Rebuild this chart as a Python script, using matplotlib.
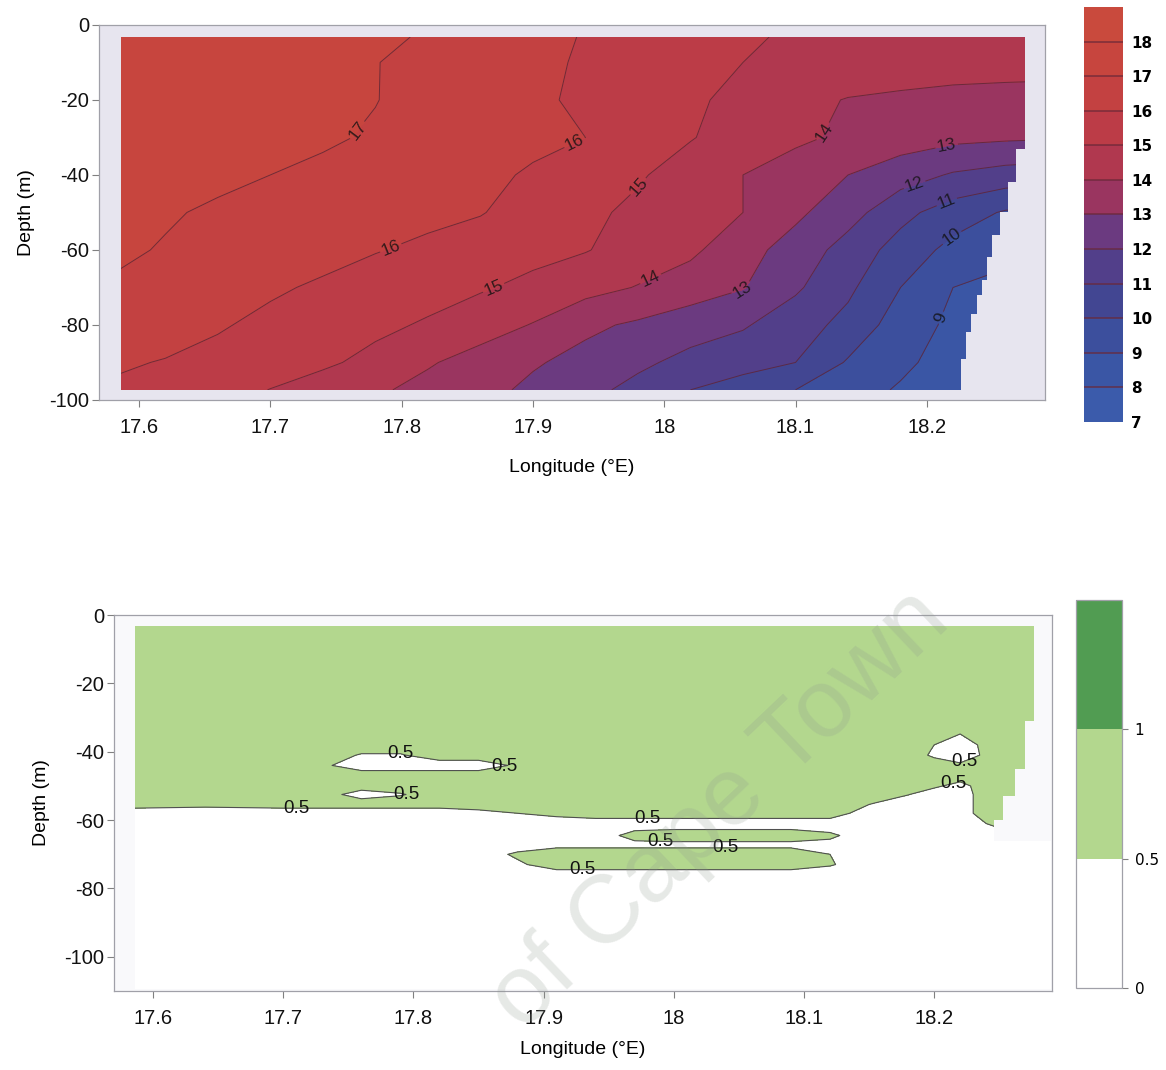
import numpy as np
import matplotlib
matplotlib.use("Agg")
import matplotlib.pyplot as plt
from matplotlib.patches import Polygon

plt.rcParams['font.family'] = ['Liberation Sans', 'DejaVu Sans']
plt.rcParams['axes.unicode_minus'] = False

# ---------------- top panel: temperature section ----------------
lon_t = [17.586, 17.62, 17.66, 17.70, 17.74, 17.78, 17.82, 17.86, 17.90, 17.94,
         17.98, 18.02, 18.06, 18.10, 18.14, 18.18, 18.22, 18.26, 18.29]
depth_t = [-3.2, -10, -20, -30, -40, -50, -60, -70, -80, -90, -97.3]
temp = [
    [17.6, 17.55, 17.45, 17.35, 17.25, 17.1, 16.95, 16.6, 16.25, 15.95, 15.7, 15.4, 15.1, 14.9, 14.8, 14.7, 14.6, 14.5, 14.5],
    [17.6, 17.55, 17.45, 17.35, 17.2, 17.02, 16.8, 16.5, 16.2, 15.9, 15.6, 15.3, 15.0, 14.85, 14.7, 14.6, 14.45, 14.4, 14.4],
    [17.6, 17.5, 17.4, 17.3, 17.15, 17.02, 16.75, 16.45, 16.15, 15.85, 15.5, 15.15, 14.75, 14.3, 13.95, 13.8, 13.7, 13.65, 13.6],
    [17.5, 17.45, 17.35, 17.25, 17.1, 16.92, 16.7, 16.45, 16.2, 16.0, 15.5, 15.05, 14.6, 14.2, 13.8, 13.5, 13.25, 13.15, 13.1],
    [17.4, 17.3, 17.15, 17.0, 16.85, 16.65, 16.45, 16.2, 15.9, 15.5, 15.1, 14.6, 14.0, 13.5, 13.0, 12.45, 11.9, 11.6, 11.5],
    [17.2, 17.07, 16.9, 16.75, 16.6, 16.45, 16.25, 16.05, 15.6, 15.2, 14.8, 14.4, 14.0, 13.2, 12.4, 11.3, 10.5, 9.9, 9.8],
    [17.1, 16.95, 16.75, 16.55, 16.35, 16.05, 15.8, 15.55, 15.3, 15.05, 14.6, 14.2, 13.35, 12.6, 11.6, 10.6, 9.7, 9.3, 9.2],
    [16.9, 16.7, 16.45, 16.15, 15.85, 15.55, 15.35, 15.1, 14.75, 14.35, 13.95, 13.5, 13.05, 12.15, 11.2, 10.0, 9.0, 8.7, 8.6],
    [16.6, 16.4, 16.1, 15.75, 15.5, 15.2, 14.9, 14.45, 13.95, 13.2, 12.85, 12.45, 12.1, 11.45, 10.7, 9.5, 8.8, 8.5, 8.4],
    [16.1, 15.95, 15.7, 15.45, 15.15, 14.75, 14.1, 13.6, 13.1, 12.7, 12.2, 11.7, 11.4, 11.0, 9.9, 9.2, 8.6, 8.4, 8.3],
    [15.85, 15.6, 15.35, 14.98, 14.6, 14.15, 13.7, 13.3, 12.8, 12.3, 11.7, 11.0, 10.5, 10.0, 9.4, 8.9, 8.5, 8.3, 8.2],
]
temp_levels = list(range(7, 20))
temp_ticks = list(range(7, 19))
temp_colors = ['#3b5bab', '#3a56a5', '#3c4f9d', '#424692', '#523f8a', '#6b3a80',
               '#9a3560', '#b0384f', '#bc3c47', '#c34141', '#c7453e', '#c94a3d']
temp_line_levels = list(range(9, 18))

# staircase right edge of the sampled area (lon of each step, depth where it ends)
edge_t_lon = [18.275, 18.268, 18.262, 18.256, 18.250, 18.246, 18.242, 18.238, 18.234, 18.230, 18.226]
edge_t_depth = [-33, -42, -50, -56, -62, -68, -72, -77, -82, -89, -97.3]

# ---------------- bottom panel: ratio section ----------------
lon_r = [17.586, 17.64, 17.70, 17.73, 17.76, 17.79, 17.82, 17.85, 17.88, 17.91, 17.94, 17.97,
         18.00, 18.03, 18.06, 18.09, 18.12, 18.15, 18.18, 18.20, 18.22, 18.24, 18.26, 18.29]
depth_r = [-3.2, -30, -38, -41, -44, -47, -50, -52.5, -55, -58, -61, -64.5, -67.2, -70, -73, -76, -109.5]
ratio = [
    [.8, .8, .8, .8, .8, .8, .8, .8, .8, .8, .8, .8, .8, .8, .8, .8, .8, .8, .8, .8, .8, .8, .8, .8],
    [.8, .8, .8, .8, .8, .8, .8, .8, .8, .8, .8, .8, .8, .8, .8, .8, .8, .8, .8, .8, .8, .8, .8, .8],
    [.8, .8, .8, .8, .8, .8, .8, .8, .8, .8, .8, .8, .8, .8, .8, .8, .8, .8, .8, .5, .3, .6, .8, .8],
    [.8, .8, .8, .8, .45, .45, .8, .8, .8, .8, .8, .8, .8, .8, .8, .8, .8, .8, .8, .4, .2, .6, .8, .8],
    [.8, .8, .8, .6, .2, .2, .2, .2, .6, .8, .8, .8, .8, .8, .8, .8, .8, .8, .8, .8, .6, .8, .8, .8],
    [.8, .8, .8, .8, .8, .8, .8, .8, .8, .8, .8, .8, .8, .8, .8, .8, .8, .8, .8, .8, .8, .8, .8, .8],
    [.8, .8, .8, .8, .8, .8, .8, .8, .8, .8, .8, .8, .8, .8, .8, .8, .8, .8, .8, .6, .3, .8, .8, .8],
    [.8, .8, .8, .8, .2, .45, .8, .8, .8, .8, .8, .8, .8, .8, .8, .8, .8, .8, .52, .2, .2, .8, .8, .8],
    [.8, .7, .8, .8, .8, .8, .8, .8, .8, .8, .8, .8, .8, .8, .8, .8, .8, .55, .2, .2, .2, .8, .8, .8],
    [.2, .2, .2, .2, .2, .2, .2, .35, .5, .65, .8, .8, .8, .8, .8, .8, .8, .2, .2, .2, .2, .8, .8, .8],
    [.2, .2, .2, .2, .2, .2, .2, .2, .2, .2, .2, .2, .2, .2, .2, .2, .2, .2, .2, .2, .2, .5, .8, .8],
    [.2, .2, .2, .2, .2, .2, .2, .2, .2, .2, .2, .7, .8, .8, .8, .8, .6, .2, .2, .2, .2, .2, .4, .4],
    [.2, .2, .2, .2, .2, .2, .2, .2, .2, .35, .35, .35, .35, .35, .35, .35, .35, .2, .2, .2, .2, .2, .2, .2],
    [.2, .2, .2, .2, .2, .2, .2, .2, .6, .8, .8, .8, .8, .8, .8, .8, .5, .2, .2, .2, .2, .2, .2, .2],
    [.2, .2, .2, .2, .2, .2, .2, .2, .4, .8, .8, .8, .8, .8, .8, .8, .55, .2, .2, .2, .2, .2, .2, .2],
    [.2, .2, .2, .2, .2, .2, .2, .2, .2, .2, .2, .2, .2, .2, .2, .2, .2, .2, .2, .2, .2, .2, .2, .2],
    [.2, .2, .2, .2, .2, .2, .2, .2, .2, .2, .2, .2, .2, .2, .2, .2, .2, .2, .2, .2, .2, .2, .2, .2],
]
ratio_levels = [0, 0.5, 1, 1.5]
ratio_ticks = [0, 0.5, 1]
ratio_tick_labels = ['0', '0.5', '1']
ratio_colors = ['white', '#b3d78e', '#519c52']

edge_r_lon = [18.277, 18.270, 18.262, 18.253, 18.246, 18.29]
edge_r_depth = [-31, -45, -53, -60, -66, -109.5]

xticks = [17.6, 17.7, 17.8, 17.9, 18.0, 18.1, 18.2]
xtick_labels = ['17.6', '17.7', '17.8', '17.9', '18', '18.1', '18.2']

# where the contour labels sit
temp_label_pos = [(17.77, -29), (17.94, -37), (17.79, -58), (17.98, -43), (17.87, -70),
                  (18.13, -30), (17.99, -68), (18.215, -32), (18.06, -71), (18.19, -42),
                  (18.215, -47), (18.215, -55), (18.195, -76)]
ratio_label_pos = [(17.79, -41), (17.87, -44.5), (17.80, -52.5), (17.71, -56.5), (17.98, -60),
                   (17.99, -66), (18.04, -68.5), (17.93, -74.3), (18.22, -40), (18.215, -49.5)]


def staircase(lon0, top, step_lon, step_depth):
    pts = [(lon0, top)]
    prev = top
    for x, d in zip(step_lon, step_depth):
        pts.append((x, prev))
        pts.append((x, d))
        prev = d
    pts.append((lon0, prev))
    return pts


def style_axes(ax, xlim, ylim, yticks, xlabelpad):
    ax.set_xlim(*xlim)
    ax.set_ylim(*ylim)
    ax.set_xticks(xticks)
    ax.set_xticklabels(xtick_labels)
    ax.set_yticks(yticks)
    ax.set_yticklabels([str(v) for v in yticks])
    for s in ax.spines.values():
        s.set_color('#a0a0a8')
        s.set_linewidth(0.9)
    ax.tick_params(colors='#808080', length=5, width=0.8, labelsize=14.5,
                   labelcolor='#111111', pad=2)
    ax.tick_params(axis='x', pad=8)
    ax.set_ylabel('Depth (m)', fontsize=14, labelpad=10)
    ax.set_xlabel('Longitude (°E)', fontsize=14, labelpad=xlabelpad)


fig = plt.figure(figsize=(11.66, 10.70), dpi=100)

# ---- top ----
ax1 = fig.add_axes([0.0849, 0.6262, 0.8113, 0.3505])
ax1.set_facecolor('#e7e5ef')
X, Y = np.meshgrid(lon_t, depth_t)
T = np.array(temp)
cf1 = ax1.contourf(X, Y, T, levels=temp_levels, colors=temp_colors)
cl1 = ax1.contour(X, Y, T, levels=temp_line_levels, colors='#5a2535', linewidths=0.7, alpha=0.8)
clip1 = Polygon(staircase(lon_t[0], depth_t[0], edge_t_lon, edge_t_depth), closed=True,
                transform=ax1.transData, facecolor='none', edgecolor='none')
ax1.add_patch(clip1)
cf1.set_clip_path(clip1)
cl1.set_clip_path(clip1)
ax1.clabel(cl1, fmt='%d', fontsize=12.5, colors='#111111', manual=temp_label_pos, inline_spacing=2)
style_axes(ax1, (17.5695, 18.29), (-100, 0), [0, -20, -40, -60, -80, -100], 16)

cax1 = fig.add_axes([0.9297, 0.6056, 0.0334, 0.3879])
cb1 = fig.colorbar(cf1, cax=cax1, ticks=temp_ticks)
cb1.outline.set_visible(False)
for t in temp_ticks[1:]:
    cax1.axhline(t, color='#6a2838', lw=1.3, alpha=0.7)
cax1.tick_params(length=0, labelsize=11, pad=6)
for lab in cax1.get_yticklabels():
    lab.set_fontfamily('DejaVu Sans')
    lab.set_fontweight('bold')

# ---- bottom ----
ax2 = fig.add_axes([0.0978, 0.0738, 0.8045, 0.3514])
ax2.set_facecolor('#f9f9fb')
X2, Y2 = np.meshgrid(lon_r, depth_r)
R = np.array(ratio)
cf2 = ax2.contourf(X2, Y2, R, levels=ratio_levels, colors=ratio_colors)
cl2 = ax2.contour(X2, Y2, R, levels=[0.5], colors='#505050', linewidths=0.8)
clip2 = Polygon(staircase(lon_r[0], depth_r[0], edge_r_lon, edge_r_depth), closed=True,
                transform=ax2.transData, facecolor='none', edgecolor='none')
ax2.add_patch(clip2)
cf2.set_clip_path(clip2)
cl2.set_clip_path(clip2)
labels2 = ax2.clabel(cl2, fmt='%.1f', fontsize=13.5, colors='#111111', manual=ratio_label_pos,
                     inline=False)
for lab in labels2:
    lab.set_rotation(0)
style_axes(ax2, (17.570, 18.2906), (-110, 0), [0, -20, -40, -60, -80, -100], 9)

cax2 = fig.add_axes([0.9228, 0.0766, 0.0395, 0.3626])
cb2 = fig.colorbar(cf2, cax=cax2, ticks=ratio_ticks)
cb2.outline.set_edgecolor('#a0a0a8')
cb2.outline.set_linewidth(0.9)
cax2.set_yticklabels(ratio_tick_labels)
cax2.tick_params(length=4, color='#808080', labelsize=11, pad=5)
for lab in cax2.get_yticklabels():
    lab.set_fontfamily('DejaVu Sans')

# library watermark from the scan
fig.text(720 / 1166, 1 - 810 / 1070, 'of Cape Town', rotation=43.5,
         rotation_mode='anchor', ha='center', va='center', fontsize=70,
         color='#8f9a8f', alpha=0.22)

fig.savefig('out.png', dpi=100)
